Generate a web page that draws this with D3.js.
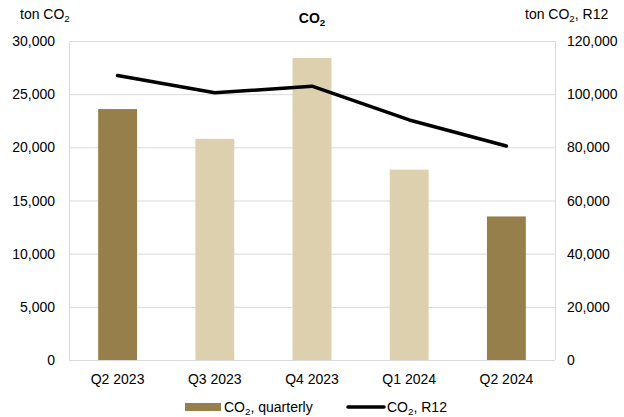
<!DOCTYPE html>
<html>
<head>
<meta charset="utf-8" />
<script src="https://d3js.org/d3.v7.min.js"></script>
<style>
  body { margin: 0; background: #fff; }
  svg { font-family: Arial, "Liberation Sans", sans-serif; }
</style>
</head>
<body>
<div id="chart"></div>
<script>
// Données
const quarters = ["Q2 2023", "Q3 2023", "Q4 2023", "Q1 2024", "Q2 2024"];
const quarterly = [23600, 20800, 28400, 17900, 13500];
const r12 = [107000, 100500, 103000, 90300, 80500];
const highlighted = [true, false, false, false, true];
const leftTicks = [0, 5000, 10000, 15000, 20000, 25000, 30000];
const rightTicks = [0, 20000, 40000, 60000, 80000, 100000, 120000];

const W = 624, H = 417;
const m = { left: 69, right: 69, top: 41, bottom: 57 };
const dark = "#977f4b", light = "#ddd0af";

const svg = d3.select("#chart").append("svg").attr("width", W).attr("height", H);

const x = d3.scaleBand().domain(quarters).range([m.left, W - m.right]).paddingInner(0.6).paddingOuter(0.3);
const yL = d3.scaleLinear().domain([0, 30000]).range([H - m.bottom, m.top]);
const yR = d3.scaleLinear().domain([0, 120000]).range([H - m.bottom, m.top]);
const fmt = d3.format(",");

// grille
svg.append("g").selectAll("line").data(leftTicks.slice(1)).enter().append("line")
  .attr("x1", m.left).attr("x2", W - m.right)
  .attr("y1", d => yL(d) + 0.5).attr("y2", d => yL(d) + 0.5)
  .attr("stroke", "#d9d9d9").attr("stroke-width", 1);

// bordures gauche / droite
svg.append("line").attr("x1", m.left + 0.5).attr("x2", m.left + 0.5)
  .attr("y1", m.top).attr("y2", H - m.bottom).attr("stroke", "#d9d9d9");
svg.append("line").attr("x1", W - m.right + 0.5).attr("x2", W - m.right + 0.5)
  .attr("y1", m.top).attr("y2", H - m.bottom).attr("stroke", "#d9d9d9");

// barres
svg.append("g").selectAll("rect").data(quarterly).enter().append("rect")
  .attr("x", (d, i) => x(quarters[i]))
  .attr("width", x.bandwidth())
  .attr("y", d => yL(d))
  .attr("height", d => yL(0) - yL(d))
  .attr("fill", (d, i) => highlighted[i] ? dark : light);

// axe du bas
svg.append("line").attr("x1", m.left).attr("x2", W - m.right)
  .attr("y1", yL(0) + 0.5).attr("y2", yL(0) + 0.5).attr("stroke", "#d9d9d9");

// ligne R12
const line = d3.line().x((d, i) => x(quarters[i]) + x.bandwidth() / 2).y(d => yR(d));
svg.append("path").datum(r12).attr("d", line)
  .attr("fill", "none").attr("stroke", "#000").attr("stroke-width", 3.5)
  .attr("stroke-linejoin", "round").attr("stroke-linecap", "round");

// étiquettes des axes
svg.append("g").selectAll("text").data(leftTicks).enter().append("text")
  .attr("x", m.left - 14).attr("y", d => yL(d) + 5)
  .attr("text-anchor", "end").style("font-size", "14px").attr("fill", "#000")
  .text(d => fmt(d));
svg.append("g").selectAll("text").data(rightTicks).enter().append("text")
  .attr("x", W - m.right + 12).attr("y", d => yR(d) + 5)
  .attr("text-anchor", "start").style("font-size", "14px").attr("fill", "#000")
  .text(d => fmt(d));
svg.append("g").selectAll("text").data(quarters).enter().append("text")
  .attr("x", d => x(d) + x.bandwidth() / 2).attr("y", yL(0) + 24)
  .attr("text-anchor", "middle").style("font-size", "14px").attr("fill", "#000")
  .text(d => d);

// titres
function co2(sel, before, after) {
  sel.append("tspan").text(before + "CO");
  sel.append("tspan").attr("baseline-shift", "-25%").style("font-size", "70%").text("2");
  sel.append("tspan").text(after);
}
svg.append("text").attr("x", 312).attr("y", 23).attr("text-anchor", "middle")
  .style("font-size", "14px").style("font-weight", "bold").call(co2, "", "");
svg.append("text").attr("x", 20).attr("y", 19).style("font-size", "14px").call(co2, "ton ", "");
svg.append("text").attr("x", 525).attr("y", 19).style("font-size", "14px").call(co2, "ton ", ", R12");

// légende
const lg = svg.append("g");
lg.append("rect").attr("x", 185).attr("y", 403).attr("width", 36).attr("height", 8).attr("fill", dark);
lg.append("text").attr("x", 224).attr("y", 412).style("font-size", "14px").call(co2, "", ", quarterly");
lg.append("line").attr("x1", 348).attr("x2", 384).attr("y1", 407).attr("y2", 407)
  .attr("stroke", "#000").attr("stroke-width", 3.5).attr("stroke-linecap", "round");
lg.append("text").attr("x", 387).attr("y", 412).style("font-size", "14px").call(co2, "", ", R12");
</script>
</body>
</html>
